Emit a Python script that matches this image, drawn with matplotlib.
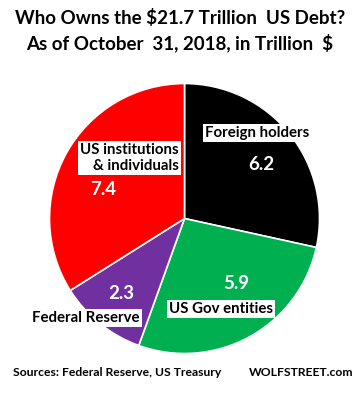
import matplotlib
matplotlib.use('Agg')
import matplotlib.pyplot as plt

plt.rcParams['font.family'] = ['Lato', 'DejaVu Sans']
plt.rcParams['font.weight'] = 'bold'

# data (trillion $), clockwise from 12 o'clock
holders = ['Foreign holders', 'US Gov entities', 'Federal Reserve', 'US institutions\n& individuals']
values = [6.2, 5.9, 2.3, 7.4]
colors = ['#000000', '#00B050', '#7030A0', '#FF0000']

fig = plt.figure(figsize=(3.6, 3.96), dpi=100)
fig.patch.set_facecolor('white')

# pie axes, square in pixels
ax = fig.add_axes([0.1375, 0.1073, 0.75, 0.6818])
ax.pie(values, colors=colors, startangle=90, counterclock=False,
       wedgeprops=dict(edgecolor='white', linewidth=1.2))
ax.set_xlim(-1, 1)
ax.set_ylim(-1, 1)
ax.set_aspect('equal')
ax.axis('off')

box = dict(boxstyle='square,pad=0.15', facecolor='white', edgecolor='none')

# category names (px positions -> data coords)
def d(px, py):
    return (px - 184.5) / 135.0, (218.5 - py) / 135.0

name_pos = [(257, 133, 'center'), (221, 309, 'center'), (86, 318, 'center'), (179, 158, 'right')]
for name, (px, py, ha) in zip(holders, name_pos):
    x, y = d(px, py)
    ax.text(x, y, name, ha=ha, va='center', fontsize=10.8, color='black',
            bbox=box, linespacing=1.1)

value_pos = [(261, 164), (236, 283), (121, 293), (103, 189)]
for v, (px, py) in zip(values, value_pos):
    x, y = d(px, py)
    ax.text(x, y, '%.1f' % v, ha='center', va='center', fontsize=13.5,
            color='white', fontweight='bold')

fig.text(0.5, 1 - 18 / 396, 'Who Owns the $21.7 Trillion  US Debt?',
         ha='center', va='center', fontsize=13.5, fontweight='bold')
fig.text(0.5, 1 - 43 / 396, 'As of October  31, 2018, in Trillion  $',
         ha='center', va='center', fontsize=13.5, fontweight='bold')

fig.text(13 / 360, 1 - 372 / 396, 'Sources: Federal Reserve, US Treasury',
         ha='left', va='center', fontsize=8.7, fontweight='bold')
fig.text(353 / 360, 1 - 372 / 396, 'WOLFSTREET.com',
         ha='right', va='center', fontsize=8.7, fontweight='bold')

fig.savefig('out.png', dpi=100)
